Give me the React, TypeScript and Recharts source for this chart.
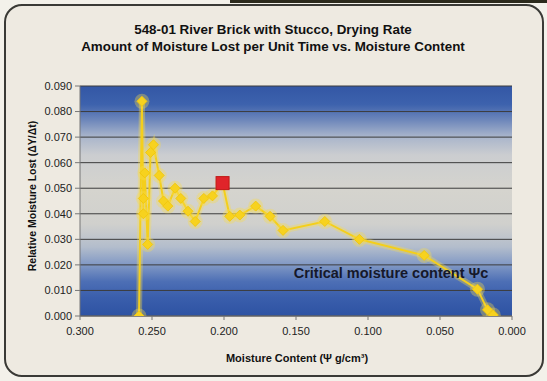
import React from "react";
import { ComposedChart, Line, XAxis, YAxis, CartesianGrid } from "recharts";

const moisture = [0.259, 0.257, 0.256, 0.256, 0.255, 0.253, 0.251, 0.249, 0.245, 0.242, 0.239, 0.234, 0.230, 0.225, 0.220, 0.214, 0.208, 0.201, 0.196, 0.189, 0.178, 0.168, 0.159, 0.130, 0.106, 0.061, 0.024, 0.017, 0.013];
const rate = [0.000, 0.084, 0.040, 0.046, 0.056, 0.028, 0.064, 0.067, 0.055, 0.045, 0.043, 0.050, 0.046, 0.041, 0.037, 0.046, 0.047, 0.052, 0.039, 0.0395, 0.043, 0.039, 0.0335, 0.037, 0.030, 0.0237, 0.0105, 0.0024, 0.0004];
const highlightMoisture = [0.201];
const highlightRate = [0.052];
const xTicks = [0, 0.05, 0.1, 0.15, 0.2, 0.25, 0.3];
const yTicks = [0, 0.01, 0.02, 0.03, 0.04, 0.05, 0.06, 0.07, 0.08, 0.09];

const titleLine1 = "548-01 River Brick with Stucco, Drying Rate";
const titleLine2 = "Amount of Moisture Lost per Unit Time vs. Moisture Content";
const xLabel = "Moisture Content (\u03A8 g/cm\u00B3)";
const yLabel = "Relative Moisture Lost (\u0394Y/\u0394t)";
const criticalLabel = "Critical moisture content \u03A8c";

const series = moisture.map((m, i) => ({ m, r: rate[i] }));
const highlight = highlightMoisture.map((m, i) => ({ m, r: highlightRate[i] }));

const FONT = "'Liberation Sans', Arial, sans-serif";

const Diamond = (props: any) => {
  const { cx, cy, index } = props;
  if (cx == null || cy == null) return <g key={index} />;
  const s = 5;
  return (
    <path
      key={index}
      d={`M${cx},${cy - s} L${cx + s},${cy} L${cx},${cy + s} L${cx - s},${cy} Z`}
      fill="#f7d21e"
      stroke="#f2c80f"
      strokeWidth={1}
    />
  );
};

const Glow = (props: any) => {
  const { cx, cy, index } = props;
  if (cx == null || cy == null) return <g key={index} />;
  return <circle key={index} cx={cx} cy={cy} r={7.5} fill="#f8dc4a" fillOpacity={0.35} />;
};

const RedSquare = (props: any) => {
  const { cx, cy, index } = props;
  if (cx == null || cy == null) return <g key={index} />;
  const s = 6.5;
  return <rect key={index} x={cx - s} y={cy - s} width={2 * s} height={2 * s} fill="#e0242a" stroke="#c01818" strokeWidth={1} />;
};

export default function App() {
  return (
    <div style={{ position: "absolute", left: 0, top: 0, width: 547, height: 381, background: "#f3f1ea", overflow: "hidden" }}>
      <svg width={0} height={0} style={{ position: "absolute" }}>
        <defs>
          <linearGradient id="plotBg" x1="0" y1="0" x2="0" y2="1">
            <stop offset="0%" stopColor="#3357a5" />
            <stop offset="8%" stopColor="#3d62ad" />
            <stop offset="15%" stopColor="#6f88bb" />
            <stop offset="22%" stopColor="#a9b5cb" />
            <stop offset="30%" stopColor="#cbcdd0" />
            <stop offset="45%" stopColor="#d5d4ce" />
            <stop offset="60%" stopColor="#d0d0cd" />
            <stop offset="70%" stopColor="#b3bdcc" />
            <stop offset="78%" stopColor="#7f97c4" />
            <stop offset="85%" stopColor="#4d6fb5" />
            <stop offset="92%" stopColor="#3a5eac" />
            <stop offset="100%" stopColor="#2e53a3" />
          </linearGradient>
        </defs>
      </svg>
      <div style={{ position: "absolute", left: 230, top: 0, width: 317, height: 3, background: "#2b2a1c" }} />
      <div
        style={{
          position: "absolute",
          left: 4,
          top: 4,
          width: 536,
          height: 369,
          border: "2px solid #3a3a36",
          borderRadius: 18,
          background: "#eeeae1",
        }}
      />
      <div style={{ position: "absolute", left: 0, top: 0 }}>
        <ComposedChart width={547} height={381} margin={{ top: 86, right: 35, bottom: 35, left: 0 }}>
          <CartesianGrid vertical={false} horizontal={true} stroke="#3c3c3c" strokeWidth={1} fill="url(#plotBg)" fillOpacity={1} />
          <XAxis
            type="number"
            dataKey="m"
            domain={[0, 0.3]}
            ticks={xTicks}
            reversed
            allowDataOverflow
            height={30}
            tickFormatter={(v: number) => v.toFixed(3)}
            tick={{ fill: "#222", fontSize: 11, fontFamily: FONT }}
            axisLine={{ stroke: "#777" }}
            tickLine={{ stroke: "#777" }}
            tickSize={4}
            tickMargin={7}
          />
          <YAxis
            type="number"
            dataKey="r"
            domain={[0, 0.09]}
            ticks={yTicks}
            allowDataOverflow
            width={80}
            tickFormatter={(v: number) => v.toFixed(3)}
            tick={{ fill: "#222", fontSize: 11, fontFamily: FONT }}
            axisLine={{ stroke: "#777" }}
            tickLine={{ stroke: "#777" }}
            tickSize={5}
            tickMargin={3}
          />
          <Line
            data={series}
            dataKey="r"
            type="linear"
            stroke="#f8dc4a"
            strokeOpacity={0.35}
            strokeWidth={6}
            dot={Glow}
            activeDot={false}
            isAnimationActive={false}
            legendType="none"
          />
          <Line
            data={series}
            dataKey="r"
            type="linear"
            stroke="#f4cf1c"
            strokeWidth={2}
            dot={Diamond}
            activeDot={false}
            isAnimationActive={false}
          />
          <Line
            data={highlight}
            dataKey="r"
            type="linear"
            stroke="none"
            dot={RedSquare}
            activeDot={false}
            isAnimationActive={false}
          />
        </ComposedChart>
      </div>
      <svg width={547} height={381} style={{ position: "absolute", left: 0, top: 0, pointerEvents: "none" }}>
        <text x={273} y={33.5} textAnchor="middle" fontFamily={FONT} fontWeight="bold" fontSize={13.4} fill="#111">
          {titleLine1}
        </text>
        <text x={273} y={50.5} textAnchor="middle" fontFamily={FONT} fontWeight="bold" fontSize={13.4} fill="#111">
          {titleLine2}
        </text>
        <text x={297} y={361.5} textAnchor="middle" fontFamily={FONT} fontWeight="bold" fontSize={11} fill="#111">
          {xLabel}
        </text>
        <text
          x={0}
          y={0}
          transform="translate(36,196) rotate(-90)"
          textAnchor="middle"
          fontFamily={FONT}
          fontWeight="bold"
          fontSize={10.5}
          fill="#111"
        >
          {yLabel}
        </text>
        <text x={391} y={277.5} textAnchor="middle" fontFamily={FONT} fontWeight="bold" fontSize={14.5} fill="#15182a">
          {criticalLabel}
        </text>
      </svg>
    </div>
  );
}
